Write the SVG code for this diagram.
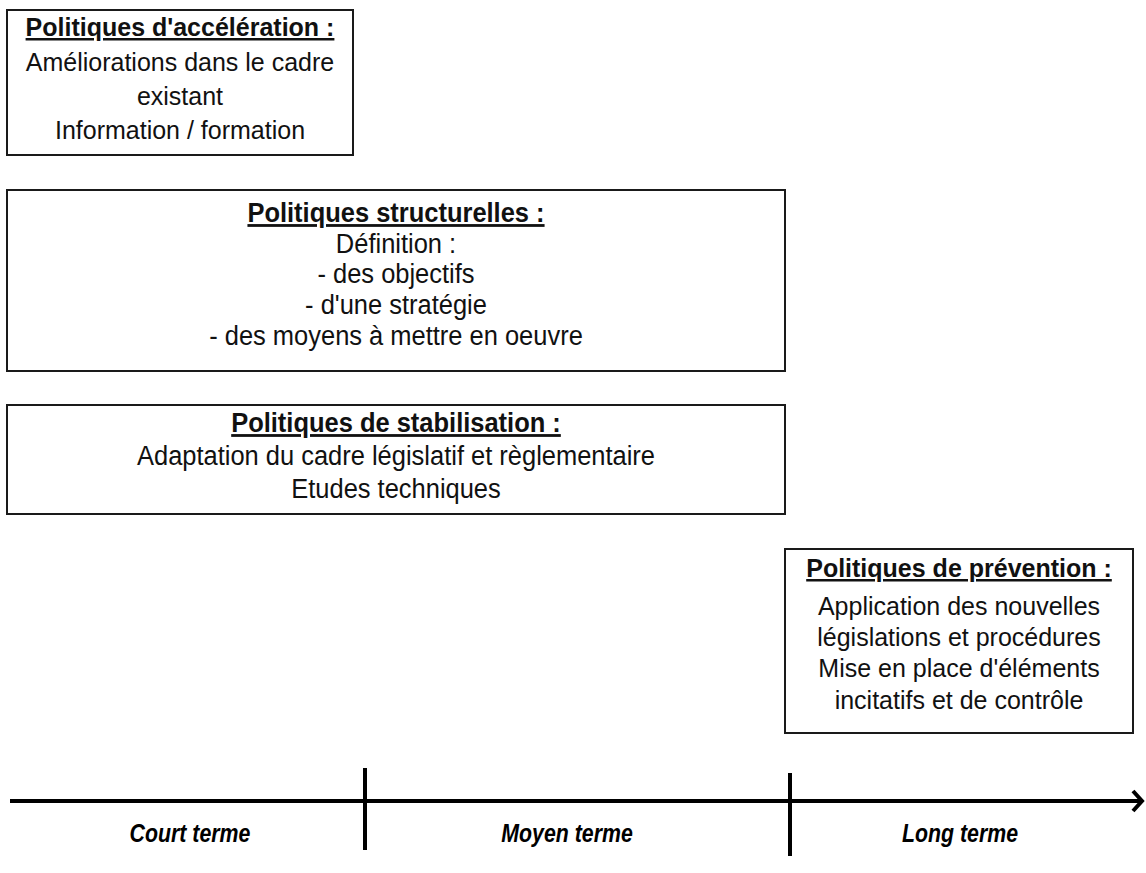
<svg xmlns="http://www.w3.org/2000/svg" width="1146" height="873" viewBox="0 0 1146 873">
<style>
.box{fill:#fff;stroke:#1a1a1a;stroke-width:2}
.t{font-family:"Liberation Sans",Arial,sans-serif;font-size:25px;fill:#111;text-anchor:middle}
.h{font-weight:bold;text-decoration:underline}
.n{font-family:"Liberation Sans",Arial,sans-serif;font-size:28px;fill:#111;text-anchor:middle}
.ax{stroke:#000;stroke-width:4;fill:none}
.lab{font-family:"Liberation Sans",Arial,sans-serif;font-size:26px;font-weight:bold;font-style:italic;fill:#000;text-anchor:middle}
</style>
<rect width="1146" height="873" fill="#fff"/>
<g id="acceleration">
<rect class="box" x="7" y="10" width="346" height="145"/>
<text class="t h" x="180" y="36">Politiques d'accélération :</text>
<text class="t" x="180" y="71">Améliorations dans le cadre</text>
<text class="t" x="180" y="105">existant</text>
<text class="t" x="180" y="139">Information / formation</text>
</g>
<g id="structurelles">
<rect class="box" x="7" y="190" width="778" height="181"/>
<g transform="translate(396 0) scale(0.91 1)">
<text class="n h" x="0" y="222">Politiques structurelles :</text>
<text class="n" x="0" y="253">Définition :</text>
<text class="n" x="0" y="283">- des objectifs</text>
<text class="n" x="0" y="314">- d'une stratégie</text>
<text class="n" x="0" y="345">- des moyens à mettre en oeuvre</text>
</g>
</g>
<g id="stabilisation">
<rect class="box" x="7" y="405" width="778" height="109"/>
<g transform="translate(396 0) scale(0.91 1)">
<text class="n h" x="0" y="432">Politiques de stabilisation :</text>
<text class="n" x="0" y="465">Adaptation du cadre législatif et règlementaire</text>
<text class="n" x="0" y="498">Etudes techniques</text>
</g>
</g>
<g id="prevention">
<rect class="box" x="785" y="549" width="348" height="184"/>
<text class="t h" x="959" y="577">Politiques de prévention :</text>
<text class="t" x="959" y="615">Application des nouvelles</text>
<text class="t" x="959" y="646">législations et procédures</text>
<text class="t" x="959" y="677">Mise en place d'éléments</text>
<text class="t" x="959" y="709">incitatifs et de contrôle</text>
</g>
<g id="connectors">
<line class="ax" x1="10" y1="801" x2="1141" y2="801"/>
<polyline class="ax" points="1133,791 1142,801 1133,811"/>
<line class="ax" x1="365" y1="768" x2="365" y2="850"/>
<line class="ax" x1="790" y1="773" x2="790" y2="856"/>
</g>
<g id="labels">
<g transform="translate(190 0) scale(0.82 1)"><text class="lab" x="0" y="842">Court terme</text></g>
<g transform="translate(567 0) scale(0.82 1)"><text class="lab" x="0" y="842">Moyen terme</text></g>
<g transform="translate(960 0) scale(0.82 1)"><text class="lab" x="0" y="842">Long terme</text></g>
</g>
</svg>
